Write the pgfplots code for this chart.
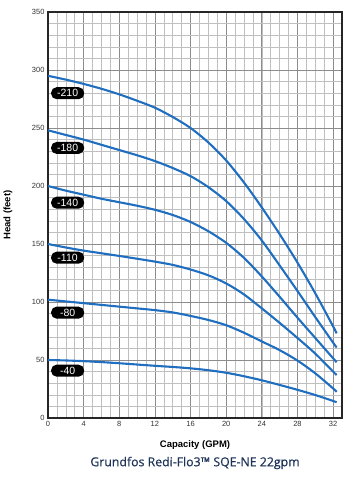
\documentclass[border=0pt]{standalone}
\usepackage{fontspec}
\setmainfont{Liberation Sans}
\newfontfamily\titlefont[FakeBold=0.5]{Open Sans}
\usepackage{pgfplots}
\pgfplotsset{compat=1.18}
\definecolor{curve}{HTML}{1F6EBF}
\definecolor{titleblue}{HTML}{1E3358}
\begin{document}
\begin{tikzpicture}
\begin{axis}[name=ax, scale only axis, width=294pt, height=406pt,
  xmin=0, xmax=33, ymin=0, ymax=350,
  xtick={0,4,...,32}, ytick={0,50,...,350},
  minor xtick={0,1,...,33}, minor ytick={0,10,...,350},
  grid=both,
  major grid style={draw=black!45, line width=0.8pt},
  minor grid style={draw=black!25, line width=0.55pt},
  major tick length=0pt, minor tick length=0pt,
  axis line style={draw=black!85, line width=1.4pt},
  tick label style={font=\fontsize{7.5}{9}\selectfont, text=black!80},
  /pgf/number format/assume math mode=true,
  clip=false,
]
\addplot[curve, line width=2.1pt, smooth] coordinates {(0,295) (2,291.7) (4,288) (6,283.8) (8,279) (10,273.5) (12,267.5) (14,259.5) (16,250) (18,237.5) (20,222) (22,203) (24,181.5) (26,158.5) (28,134) (30,107.5) (32,79) (32.4,73)};
\addplot[curve, line width=2.1pt, smooth] coordinates {(0,248) (2,244) (4,240) (6,235.5) (8,231) (10,226.5) (12,221.5) (14,215.5) (16,208.5) (18,199) (20,187) (22,171.5) (24,153) (26,131.5) (28,109.5) (30,87) (32,65) (32.4,60.8)};
\addplot[curve, line width=2.1pt, smooth] coordinates {(0,200) (2,196) (4,192.5) (6,189) (8,186) (10,183) (12,179.5) (14,175) (16,169) (18,161) (20,151) (22,138) (24,122) (26,104.5) (28,86.5) (30,69) (32,51.5) (32.4,48)};
\addplot[curve, line width=2.1pt, smooth] coordinates {(0,150) (2,147) (4,144.3) (6,142) (8,139.7) (10,137.3) (12,134.8) (14,132) (16,128) (18,123) (20,116) (22,106.5) (24,94.5) (26,82) (28,69) (30,55.5) (32,40) (32.4,37)};
\addplot[curve, line width=2.1pt, smooth] coordinates {(0,102) (2,100.5) (4,99) (6,97.5) (8,96) (10,94.5) (12,93) (14,91) (16,88) (18,84.5) (20,80) (22,73.5) (24,66) (26,58.5) (28,49.5) (30,38.5) (32,25.5) (32.4,22.5)};
\addplot[curve, line width=2.1pt, smooth] coordinates {(0,50) (2,49.6) (4,49) (6,48.2) (8,47.2) (10,46.1) (12,45) (14,44) (16,42.8) (18,41.2) (20,39) (22,36) (24,32.5) (26,28.5) (28,24.3) (30,19.8) (32,14.7) (32.4,13.5)};
\tikzset{lbl/.style={fill=black, text=white, rounded corners=5.5pt, inner xsep=2pt, inner ysep=0pt, minimum height=12pt, minimum width=33pt, font=\fontsize{10.5}{12}\selectfont}}
\node[lbl] at (axis cs:2.2,280) {-210};
\node[lbl] at (axis cs:2.2,232.8) {-180};
\node[lbl] at (axis cs:2.2,185.6) {-140};
\node[lbl] at (axis cs:2.2,138.2) {-110};
\node[lbl] at (axis cs:2.2,90.8) {-80};
\node[lbl] at (axis cs:2.2,40.8) {-40};
\end{axis}
\node[rotate=90, font=\fontsize{9.5}{11}\selectfont\bfseries] at ([xshift=-40pt]ax.west) {Head (feet)};
\node[font=\fontsize{9.5}{11}\selectfont\bfseries] at ([yshift=-27pt]ax.south) {Capacity (GPM)};
\node[font=\titlefont\fontsize{12.3}{14}\selectfont, text=titleblue] at ([yshift=-45pt]ax.south) {Grundfos Redi-Flo3™ SQE-NE 22gpm};
\pgfresetboundingbox
\path ([xshift=-48pt,yshift=-60pt]ax.south west) rectangle ([xshift=14pt,yshift=12pt]ax.north east);
\end{tikzpicture}
\end{document}
